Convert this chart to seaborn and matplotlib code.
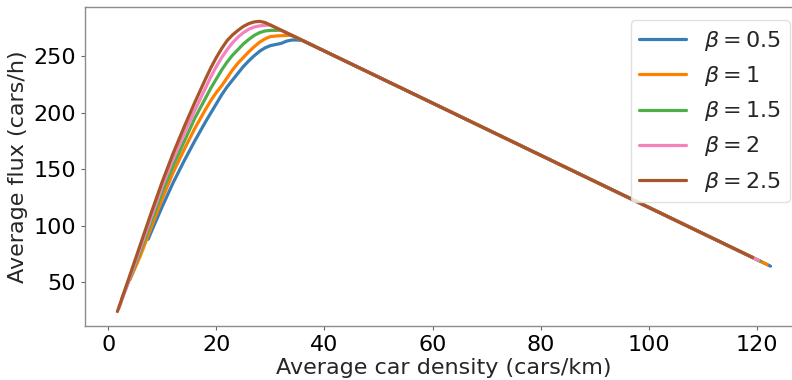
import numpy as np
import pandas as pd
import seaborn as sns
import matplotlib
matplotlib.use("Agg")
import matplotlib.pyplot as plt

# free-flow branch
density_05 = [7.4, 8, 10, 12, 14, 16, 18, 20, 21, 22, 23, 24, 25, 26, 27, 28, 29, 30, 31, 32, 33, 34, 35, 36]
flux_05 = [88, 95, 117, 138, 157, 175, 192, 208, 216, 223, 229, 235, 241, 246, 250.5, 254.5, 257.5, 259.5, 260.5, 261.5, 263.5, 264.5, 264.5, 264]

density_1 = [4, 6, 8, 10, 12, 14, 16, 18, 19, 20, 21, 22, 23, 24, 25, 26, 27, 28, 29, 30, 31, 32, 33, 34]
flux_1 = [52, 74, 99, 124, 147, 167, 186, 203, 211, 218, 224, 231, 238, 244, 249, 254, 258.5, 262.5, 265.5, 267.5, 268, 268.3, 268.5, 268.6]

density_15 = [2.5, 4, 6, 8, 10, 12, 14, 16, 18, 19, 20, 21, 22, 23, 24, 25, 26, 27, 28, 29, 30, 31, 32]
flux_15 = [35, 53, 78, 104, 130, 153, 174, 195, 213, 222, 230, 238, 245, 251, 256, 261, 265, 268.5, 271, 272.5, 273, 273, 273.2]

density_2 = [2, 4, 6, 8, 10, 12, 14, 16, 18, 19, 20, 21, 22, 23, 24, 25, 26, 27, 28, 29, 30]
flux_2 = [27, 54, 81, 108, 135, 159, 181, 202, 222, 232, 241, 249, 256, 262, 267, 271, 274, 276, 277, 277.5, 277.8]

density_25 = [1.7, 4, 6, 8, 10, 12, 14, 16, 18, 19, 20, 21, 22, 23, 24, 25, 26, 27, 28, 29]
flux_25 = [24, 56, 84, 112, 139, 164, 187, 209, 230, 240, 249, 257, 264, 269, 273, 276.5, 279, 280.5, 281, 280]

# congested branch (shared by all curves) and where each curve stops
jam_density = [40, 60, 80, 100]
jam_flux = [254.7, 208.6, 162.4, 116.2]
end_density = [122.5, 121.9, 120.6, 120.3, 119.2]
end_flux = [64.2, 65.6, 68.6, 69.3, 71.9]

betas = ["0.5", "1", "1.5", "2", "2.5"]
colors = ["#377eb8", "#ff7f00", "#4daf4a", "#f781bf", "#a65628"]

rising = [(density_05, flux_05), (density_1, flux_1), (density_15, flux_15),
          (density_2, flux_2), (density_25, flux_25)]

rows = []
for i, (d, q) in enumerate(rising):
    label = r"$\beta = %s$" % betas[i]
    xs = list(d) + jam_density + [end_density[i]]
    ys = list(q) + jam_flux + [end_flux[i]]
    for x, y in zip(xs, ys):
        rows.append({"density": x, "flux": y, "beta": label})
df = pd.DataFrame(rows)

sns.set_style("ticks", {"axes.edgecolor": "0.55", "xtick.color": "0.4", "ytick.color": "0.4"})
plt.rcParams["font.family"] = ["DejaVu Sans"]

fig = plt.figure(figsize=(7.92, 3.8), dpi=100)
ax = fig.add_axes([0.107, 0.142, 0.907, 0.84])

sns.lineplot(data=df, x="density", y="flux", hue="beta", palette=colors,
             sort=False, estimator=None, linewidth=2.3, ax=ax)

for s in ["top", "right"]:
    ax.spines[s].set_visible(True)
for s in ax.spines.values():
    s.set_linewidth(1.0)

ax.set_xticks([0, 20, 40, 60, 80, 100, 120])
ax.set_yticks([50, 100, 150, 200, 250])
ax.tick_params(axis="both", labelsize=16, length=3, width=0.8, labelcolor="black")
ax.set_xlabel("Average car density (cars/km)", fontsize=16, labelpad=2)
ax.set_ylabel("Average flux (cars/h)", fontsize=16, labelpad=4)

leg = ax.legend(loc="upper right", fontsize=16, frameon=True, handlelength=2.1,
                borderaxespad=0.6)
leg.get_frame().set_edgecolor("0.85")
for line in leg.get_lines():
    line.set_linewidth(2.3)

fig.savefig("out.png", dpi=100)
